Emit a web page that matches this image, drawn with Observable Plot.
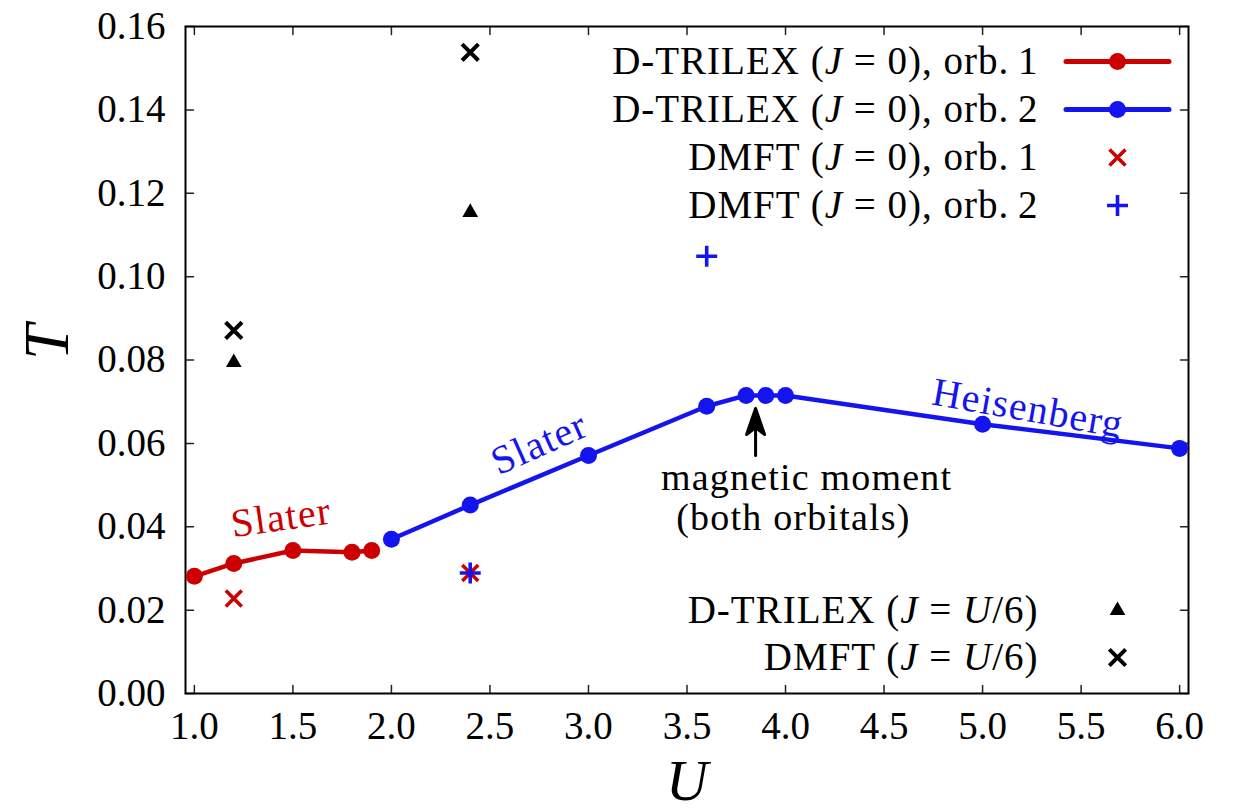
<!DOCTYPE html>
<html><head><meta charset="utf-8">
<script src="https://cdn.jsdelivr.net/npm/d3@7"></script>
<script src="https://cdn.jsdelivr.net/npm/@observablehq/plot@0.6"></script>
<style>body{margin:0;background:#fff}</style>
</head><body><div id="chart"></div>
<script>
// ---- data ----
const orb1U = [1.0, 1.2, 1.5, 1.8, 1.9];
const orb1T = [0.0281, 0.0312, 0.0343, 0.0339, 0.0343];
const orb2U = [2.0, 2.4, 3.0, 3.6, 3.8, 3.9, 4.0, 5.0, 6.0];
const orb2T = [0.0370, 0.0452, 0.0571, 0.0689, 0.0715, 0.0715, 0.0715, 0.0646, 0.0588];
const dmft1U = [1.2, 2.4];
const dmft1T = [0.0228, 0.0289];
const dmft2U = [2.4, 3.6];
const dmft2T = [0.0289, 0.1049];
const dtrilexJU = [1.2, 2.4];
const dtrilexJT = [0.0794, 0.1154];
const dmftJU = [1.2, 2.4];
const dmftJT = [0.0871, 0.1538];
const xTicks = [1.0, 1.5, 2.0, 2.5, 3.0, 3.5, 4.0, 4.5, 5.0, 5.5, 6.0];
const yTicks = [0.00, 0.02, 0.04, 0.06, 0.08, 0.10, 0.12, 0.14, 0.16];
const legendTop = ["D-TRILEX (J = 0), orb.\u20091", "D-TRILEX (J = 0), orb.\u20092", "DMFT (J = 0), orb.\u20091", "DMFT (J = 0), orb.\u20092"];
const legendBottom = ["D-TRILEX (J = U/6)", "DMFT (J = U/6)"];
const noteSlater1 = {text: "Slater", U: 1.44, T: 0.0422};
const noteSlater2 = {text: "Slater", U: 2.75, T: 0.0600};
const noteHeis = {text: "Heisenberg", U: 5.23, T: 0.0684};
const noteMoment = [{text: "magnetic moment", U: 4.107, T: 0.0518}, {text: "(both orbitals)", U: 4.04, T: 0.0422}];
const arrowTail = {U: 3.848, T: 0.0571};

const RED = "#cc0000", BLUE = "#1414ee";
const SERIF = "Liberation Serif";
const pts = (U, T) => U.map((u, i) => ({U: u, T: T[i]}));
const orb1 = pts(orb1U, orb1T), orb2 = pts(orb2U, orb2T);
const dmft1 = pts(dmft1U, dmft1T), dmft2 = pts(dmft2U, dmft2T);
const dtJ = pts(dtrilexJU, dtrilexJT), dmJ = pts(dmftJU, dmftJT);

const FS = 39;
const tickShape = {draw(ctx, l) { ctx.moveTo(0, 0); ctx.lineTo(0, -l); }};
const arrowShape = {draw(ctx, l) {
  ctx.moveTo(0, 0); ctx.lineTo(0, -l + 18);
  ctx.moveTo(0, -l); ctx.lineTo(9, -l + 26); ctx.lineTo(0, -l + 19); ctx.lineTo(-9, -l + 26); ctx.closePath();
}};

const tickMarks = [
  Plot.vector(xTicks, {x: d => d, frameAnchor: "bottom", length: 8, shape: tickShape, anchor: "start", rotate: 0, stroke: "#222", strokeWidth: 1.5}),
  Plot.vector(xTicks, {x: d => d, frameAnchor: "top", length: 8, shape: tickShape, anchor: "start", rotate: 180, stroke: "#222", strokeWidth: 1.5}),
  Plot.vector(yTicks, {y: d => d, frameAnchor: "left", length: 8, shape: tickShape, anchor: "start", rotate: 90, stroke: "#222", strokeWidth: 1.5}),
  Plot.vector(yTicks, {y: d => d, frameAnchor: "right", length: 8, shape: tickShape, anchor: "start", rotate: -90, stroke: "#222", strokeWidth: 1.5})
];

const legendMarks = [];
const topSymbols = [
  {line: true, symbol: "circle", fill: RED, stroke: "none", r: 8.5, sw: 0},
  {line: true, symbol: "circle", fill: BLUE, stroke: "none", r: 8.5, sw: 0},
  {line: false, symbol: "times", fill: "none", stroke: RED, r: 7.3, sw: 3.6},
  {line: false, symbol: "plus", fill: "none", stroke: BLUE, r: 6.8, sw: 3.6}
];
legendTop.forEach((label, i) => {
  const dy = 35 + i * 48;
  const s = topSymbols[i];
  legendMarks.push(Plot.text([label], {text: d => d, frameAnchor: "top-right", dx: -150, dy, textAnchor: "end", lineAnchor: "middle", fontSize: FS, fontFamily: SERIF, fill: "black"}));
  if (s.line) legendMarks.push(Plot.vector([0], {frameAnchor: "top-right", dx: -71, dy, length: 103, rotate: 90, anchor: "middle", shape: tickShape, stroke: s.fill, strokeWidth: 5}));
  legendMarks.push(Plot.dot([0], {frameAnchor: "top-right", dx: -71, dy, r: s.r, symbol: s.symbol, fill: s.fill, stroke: s.stroke, strokeWidth: s.sw}));
});
const bottomSymbols = [
  {symbol: "triangle2", fill: "black", stroke: "none", r: 7.5, sw: 0},
  {symbol: "times", fill: "none", stroke: "black", r: 7.5, sw: 4}
];
legendBottom.forEach((label, i) => {
  const dy = -83 + i * 47;
  const s = bottomSymbols[i];
  legendMarks.push(Plot.text([label], {text: d => d, frameAnchor: "bottom-right", dx: -150, dy, textAnchor: "end", lineAnchor: "middle", fontSize: FS, fontFamily: SERIF, fill: "black"}));
  legendMarks.push(Plot.dot([0], {frameAnchor: "bottom-right", dx: -71, dy, r: s.r, symbol: s.symbol, fill: s.fill, stroke: s.stroke, strokeWidth: s.sw}));
});

const chart = Plot.plot({
  width: 1236,
  height: 812,
  marginLeft: 185,
  marginRight: 48,
  marginTop: 26,
  marginBottom: 119,
  style: {fontFamily: SERIF, background: "white", color: "black"},
  x: {domain: [0.955, 6.045]},
  y: {domain: [0, 0.16]},
  marks: [
    Plot.axisX({ticks: xTicks, tickSize: 0, tickPadding: 18, fontSize: FS, fontFamily: SERIF, fontVariant: "normal", tickFormat: d3.format(".1f"), label: null}),
    Plot.axisY({ticks: yTicks, tickSize: 0, tickPadding: 20, fontSize: FS, fontFamily: SERIF, fontVariant: "normal", tickFormat: d3.format(".2f"), label: null}),
    ...tickMarks,
    Plot.frame({stroke: "black", strokeWidth: 2}),
    Plot.text(["T"], {frameAnchor: "left", dx: -138, rotate: -90, fontSize: 64, fontFamily: SERIF, fontStyle: "italic", lineAnchor: "middle", fill: "black"}),
    Plot.text(["U"], {frameAnchor: "bottom", dy: 88, fontSize: 58, fontFamily: SERIF, fontStyle: "italic", lineAnchor: "middle", fill: "black"}),
    // D-TRILEX J=0 lines
    Plot.line(orb1, {x: "U", y: "T", stroke: RED, strokeWidth: 4.5}),
    Plot.dot(orb1, {x: "U", y: "T", r: 8.5, fill: RED}),
    Plot.line(orb2, {x: "U", y: "T", stroke: BLUE, strokeWidth: 4.5}),
    Plot.dot(orb2, {x: "U", y: "T", r: 8.5, fill: BLUE}),
    // DMFT J=0
    Plot.dot(dmft1, {x: "U", y: "T", symbol: "times", r: 7.3, stroke: RED, strokeWidth: 3.6}),
    Plot.dot(dmft2, {x: "U", y: "T", symbol: "plus", r: 6.8, stroke: BLUE, strokeWidth: 3.6}),
    // J = U/6
    Plot.dot(dtJ, {x: "U", y: "T", symbol: "triangle2", r: 7.5, fill: "black"}),
    Plot.dot(dmJ, {x: "U", y: "T", symbol: "times", r: 7.5, stroke: "black", strokeWidth: 4}),
    // annotations
    Plot.text([noteSlater1], {x: "U", y: "T", text: "text", rotate: -8, fontSize: 40, fontFamily: SERIF, fill: RED, lineAnchor: "middle"}),
    Plot.text([noteSlater2], {x: "U", y: "T", text: "text", rotate: -24, fontSize: 40, fontFamily: SERIF, fill: BLUE, lineAnchor: "middle"}),
    Plot.text([noteHeis], {x: "U", y: "T", text: "text", rotate: 10, fontSize: 40, fontFamily: SERIF, fill: BLUE, lineAnchor: "middle"}),
    Plot.text(noteMoment, {x: "U", y: "T", text: "text", fontSize: 38, fontFamily: SERIF, fill: "black", lineAnchor: "middle"}),
    Plot.vector([arrowTail], {x: "U", y: "T", length: 47, anchor: "start", rotate: 0, shape: arrowShape, stroke: "black", fill: "black", strokeWidth: 3}),
    ...legendMarks
  ]
});
document.getElementById("chart").appendChild(chart);

// italic math symbols in legend; slight letter spacing to approach the wider TeX face
d3.select(chart).selectAll("text").each(function() {
  const s = this.textContent;
  if (s.includes("(J")) {
    this.textContent = "";
    for (const part of s.split(/([JU])/)) {
      if (!part) continue;
      const t = d3.select(this).append("tspan").text(part);
      if (part === "J" || part === "U") t.attr("font-style", "italic");
    }
    this.setAttribute("letter-spacing", "1");
  } else if (s.length > 3 && /[a-z]/.test(s)) {
    this.setAttribute("letter-spacing", "1.2");
  }
});
</script>
</body></html>
